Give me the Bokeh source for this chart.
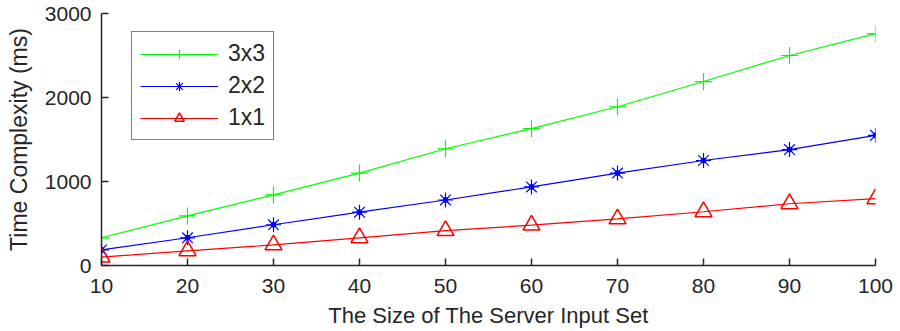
from bokeh.plotting import figure
from bokeh.models import Range1d, FixedTicker, Legend, LegendItem
from bokeh.embed import file_html
from bokeh.resources import INLINE

sizes = [10, 20, 30, 40, 50, 60, 70, 80, 90, 100]
t_3x3 = [330, 590, 840, 1100, 1390, 1630, 1890, 2190, 2500, 2760]
t_2x2 = [185, 330, 485, 635, 780, 935, 1100, 1250, 1380, 1550]
t_1x1 = [100, 175, 245, 330, 415, 480, 555, 640, 735, 795]
x_ticks = [10, 20, 30, 40, 50, 60, 70, 80, 90, 100]
y_ticks = [0, 1000, 2000, 3000]

FONT = "Liberation Sans"
TXT = "#262626"

p = figure(frame_width=774, frame_height=252, output_backend="svg", toolbar_location=None,
           x_range=Range1d(10, 100), y_range=Range1d(0, 3000),
           min_border_left=101, min_border_right=25, min_border_top=13, min_border_bottom=60)
p.outline_line_color = None
p.xgrid.grid_line_color = None
p.ygrid.grid_line_color = None

r3l = p.line(sizes, t_3x3, line_color="#00FF00", line_width=1.2)
r3m = p.scatter(sizes, t_3x3, marker="cross", size=17, line_color="#00FF00", line_width=1.2)
r2l = p.line(sizes, t_2x2, line_color="#0000FF", line_width=1.2)
r2m = p.scatter(sizes, t_2x2, marker="asterisk", size=15, line_color="#0000FF", line_width=1.2)
r2c = p.scatter(sizes, t_2x2, marker="circle", size=5, line_color="#0000FF", fill_color="#0000FF")
r1l = p.line(sizes, t_1x1, line_color="#FF0000", line_width=1.2)
r1m = p.scatter(sizes, t_1x1, marker="triangle", size=17, line_color="#FF0000",
                fill_color=None, line_width=1.5)

for ax in (p.xaxis[0], p.yaxis[0]):
    ax.axis_line_color = TXT
    ax.axis_line_width = 1.5
    ax.major_tick_line_color = TXT
    ax.major_tick_line_width = 1.5
    ax.major_tick_in = 7
    ax.major_tick_out = 0
    ax.minor_tick_line_color = None
    ax.major_label_text_font = FONT
    ax.major_label_text_font_size = "21px"
    ax.major_label_text_color = TXT
    ax.axis_label_text_font = FONT
    ax.axis_label_text_font_style = "normal"
    ax.axis_label_text_color = TXT

p.xaxis.ticker = FixedTicker(ticks=x_ticks)
p.yaxis.ticker = FixedTicker(ticks=y_ticks)
p.xaxis.axis_label = "The Size of The Server Input Set"
p.yaxis.axis_label = "Time Complexity (ms)"
p.xaxis.axis_label_text_font_size = "22px"
p.yaxis.axis_label_text_font_size = "23px"
p.xaxis.major_label_standoff = 13
p.xaxis.axis_label_standoff = 7
p.yaxis.major_label_standoff = 10
p.yaxis.axis_label_standoff = 10

legend = Legend(items=[
    LegendItem(label="3x3", renderers=[r3l, r3m]),
    LegendItem(label="2x2", renderers=[r2l, r2m]),
    LegendItem(label="1x1", renderers=[r1l, r1m]),
], location=(30, 125))
legend.border_line_color = "black"
legend.border_line_width = 1.5
legend.background_fill_color = "white"
legend.background_fill_alpha = 1
legend.label_text_font = FONT
legend.label_text_font_size = "23px"
legend.label_text_color = TXT
legend.glyph_width = 78
legend.glyph_height = 24
legend.spacing = 5
legend.padding = 8
legend.label_standoff = 10
legend.margin = 0
p.add_layout(legend, "center")

open("out.html", "w").write(file_html(p, INLINE))
